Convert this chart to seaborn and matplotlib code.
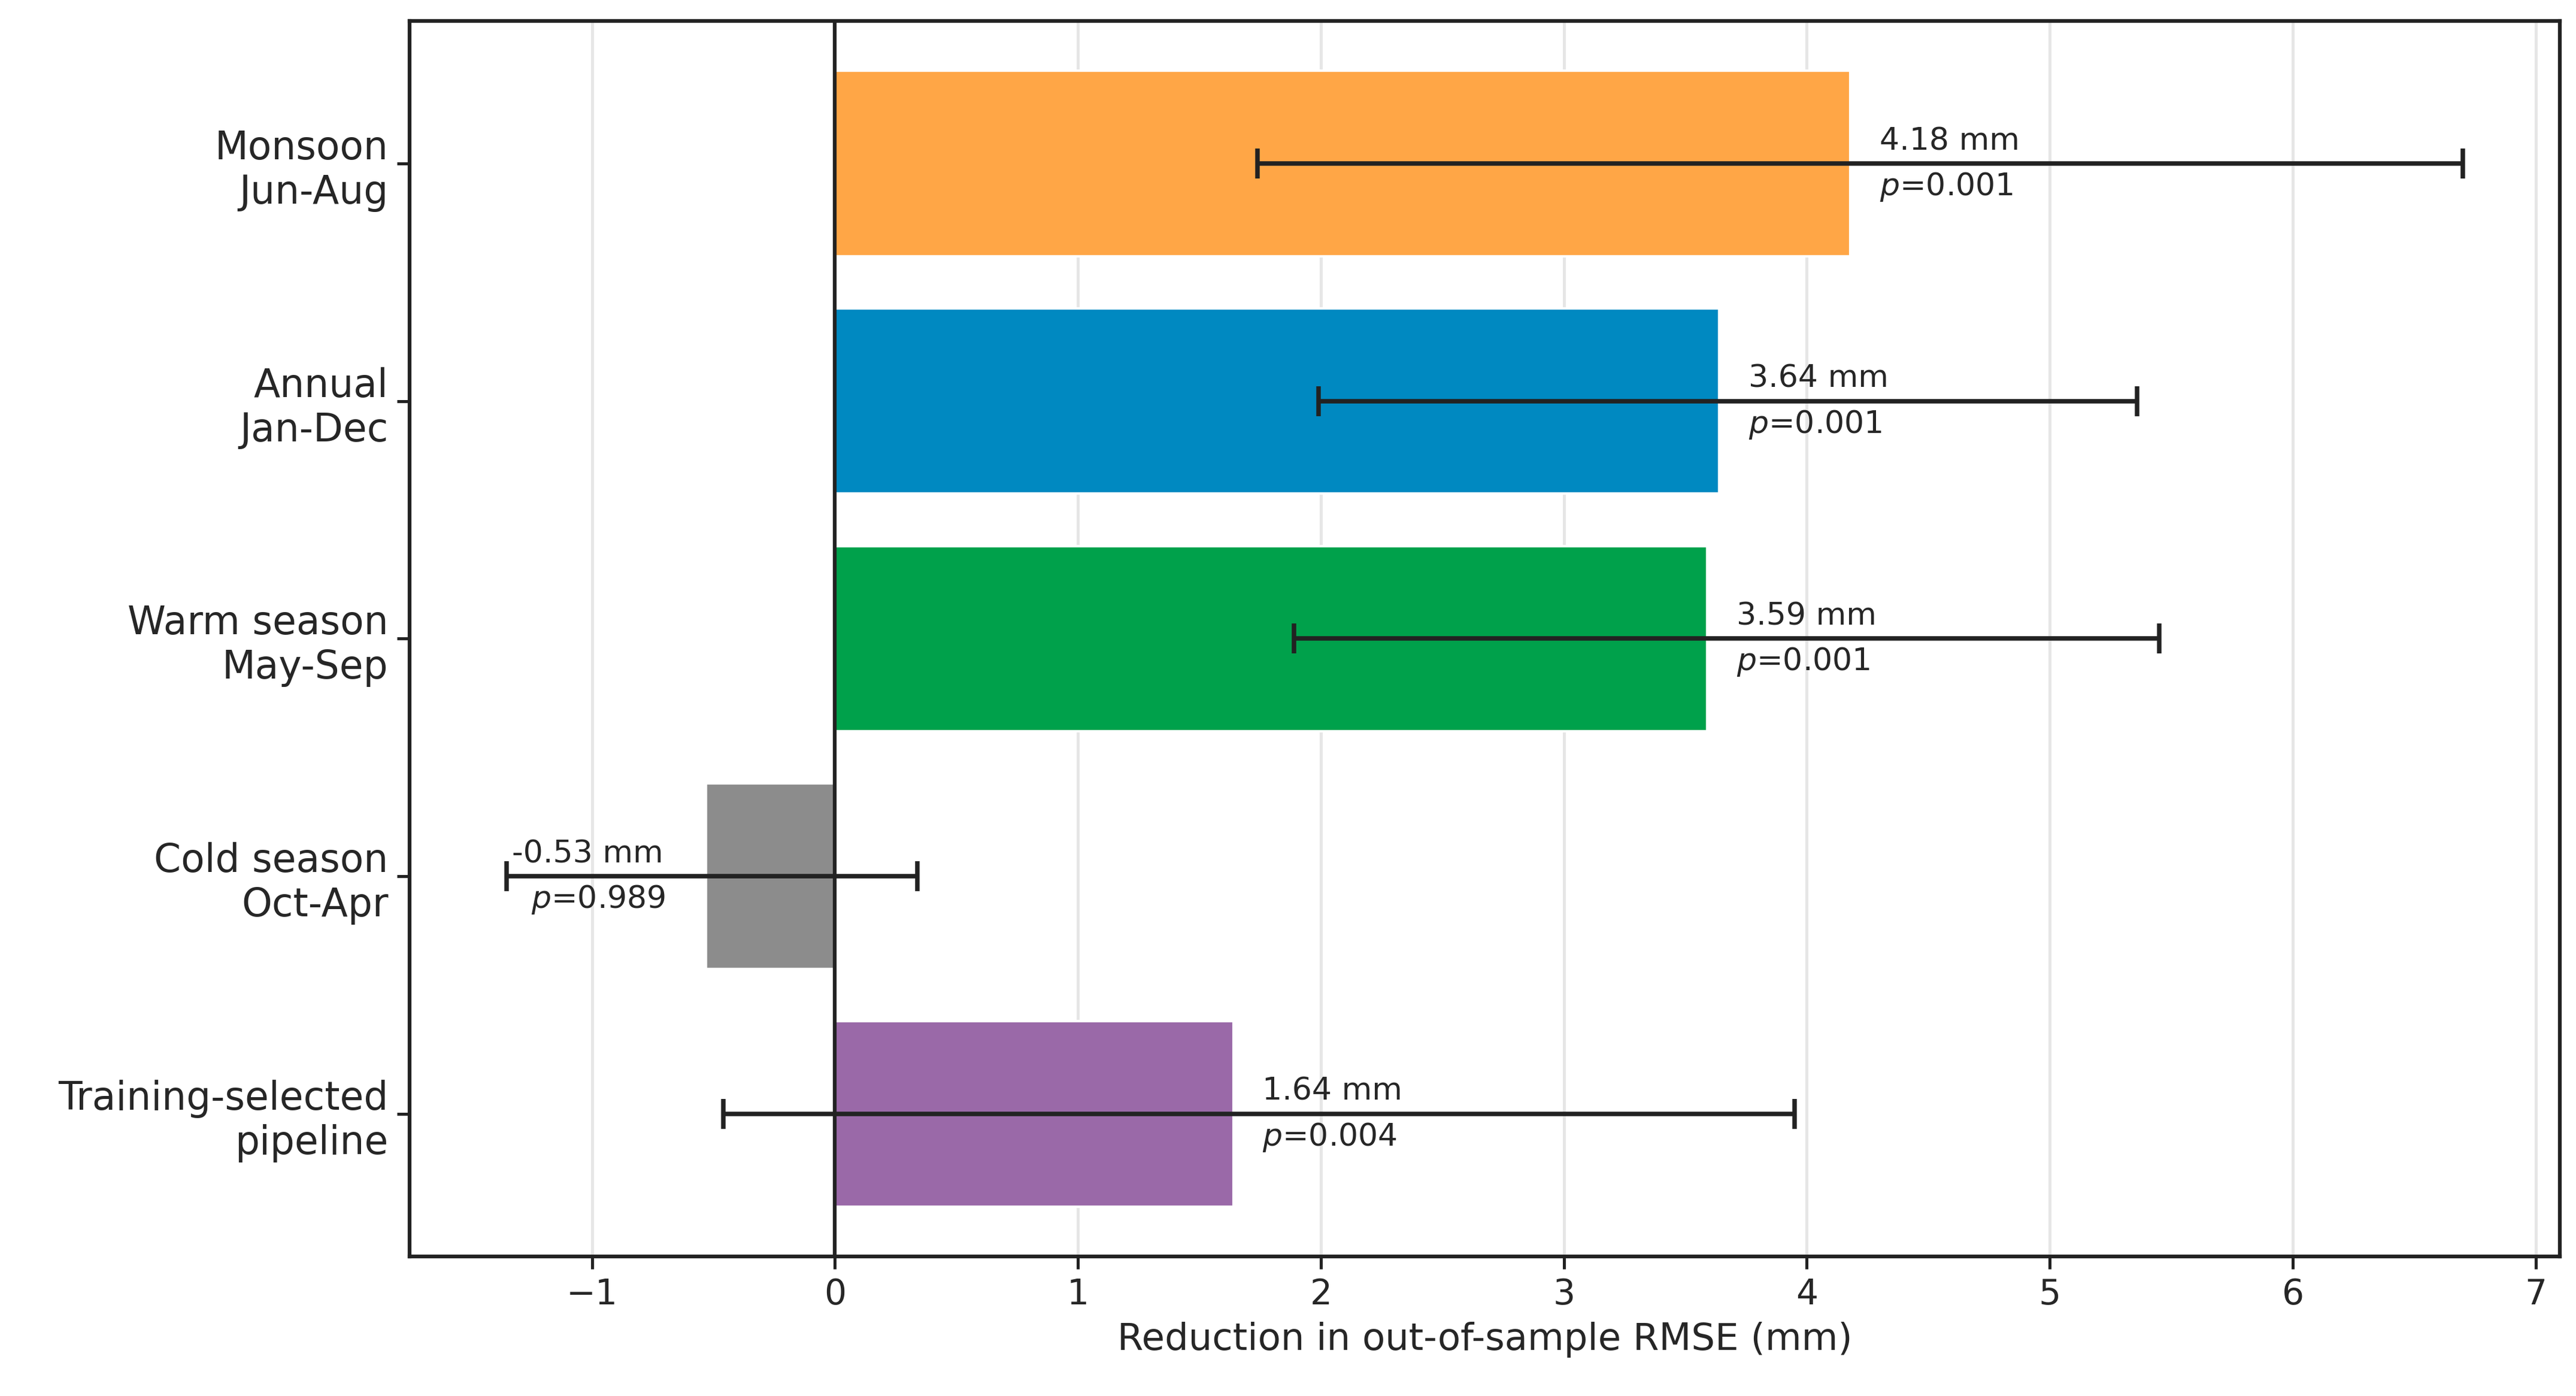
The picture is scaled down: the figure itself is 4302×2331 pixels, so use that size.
import matplotlib
matplotlib.use("Agg")
import matplotlib.pyplot as plt
import seaborn as sns
import pandas as pd
import numpy as np

categories = ["Monsoon\nJun-Aug", "Annual\nJan-Dec", "Warm season\nMay-Sep", "Cold season\nOct-Apr", "Training-selected\npipeline"]
values = [4.18, 3.64, 3.59, -0.53, 1.64]
ci_low = [1.74, 1.99, 1.89, -1.35, -0.46]
ci_high = [6.70, 5.36, 5.45, 0.34, 3.95]
pvals = ["0.001", "0.001", "0.001", "0.989", "0.004"]
colors = ["#FFA646", "#0089C1", "#00A14B", "#8C8C8C", "#9A69A8"]

sns.set_theme(style="white")
plt.rcParams['font.family'] = ['DejaVu Sans']
df = pd.DataFrame({"cat": categories, "val": values})

fig, ax = plt.subplots(figsize=(14.343, 7.77), dpi=300)
fig.subplots_adjust(left=0.159, right=0.9936, top=0.985, bottom=0.1)
sns.barplot(data=df, y="cat", x="val", hue="cat", palette=colors, orient="h",
            width=0.78, ax=ax, legend=False, zorder=2, saturation=1)
y = np.arange(len(categories))
v = np.array(values)
ax.errorbar(v, y, xerr=[v - np.array(ci_low), np.array(ci_high) - v], fmt="none",
            ecolor="#222222", elinewidth=1.8, capsize=6, capthick=1.8, zorder=3)
for i, (val, p) in enumerate(zip(values, pvals)):
    if val >= 0:
        x = val + 0.12
    else:
        x = ci_low[i] + 0.02
    ax.text(x, i - 0.03, f"{val:.2f} mm", fontsize=12.5, va="bottom", ha="left", zorder=4)
    ax.text(x + (0.08 if val < 0 else 0), i + 0.03, f"$p$={p}", fontsize=12.5, va="top", ha="left", zorder=4)

ax.axvline(0, color="#222222", lw=1.5, zorder=3)
ax.set_xlim(-1.75, 7.1)
ax.set_ylim(4.6, -0.6)
ax.set_xticks(range(-1, 8))
ax.set_xticklabels(["\u22121"] + [str(i) for i in range(0, 8)])
ax.xaxis.grid(True, color="#e6e6e6", lw=1.2, zorder=0)
ax.set_axisbelow(True)
ax.set_ylabel("")
ax.set_xlabel("Reduction in out-of-sample RMSE (mm)", fontsize=15)
ax.tick_params(axis="x", labelsize=14, length=5, width=1.2, color="#222222", bottom=True)
ax.tick_params(axis="y", labelsize=15.5, length=5, width=1.2, color="#222222", left=True)
for s in ax.spines.values():
    s.set_color("#222222"); s.set_linewidth(1.5)
fig.savefig("out.png", dpi=300)
